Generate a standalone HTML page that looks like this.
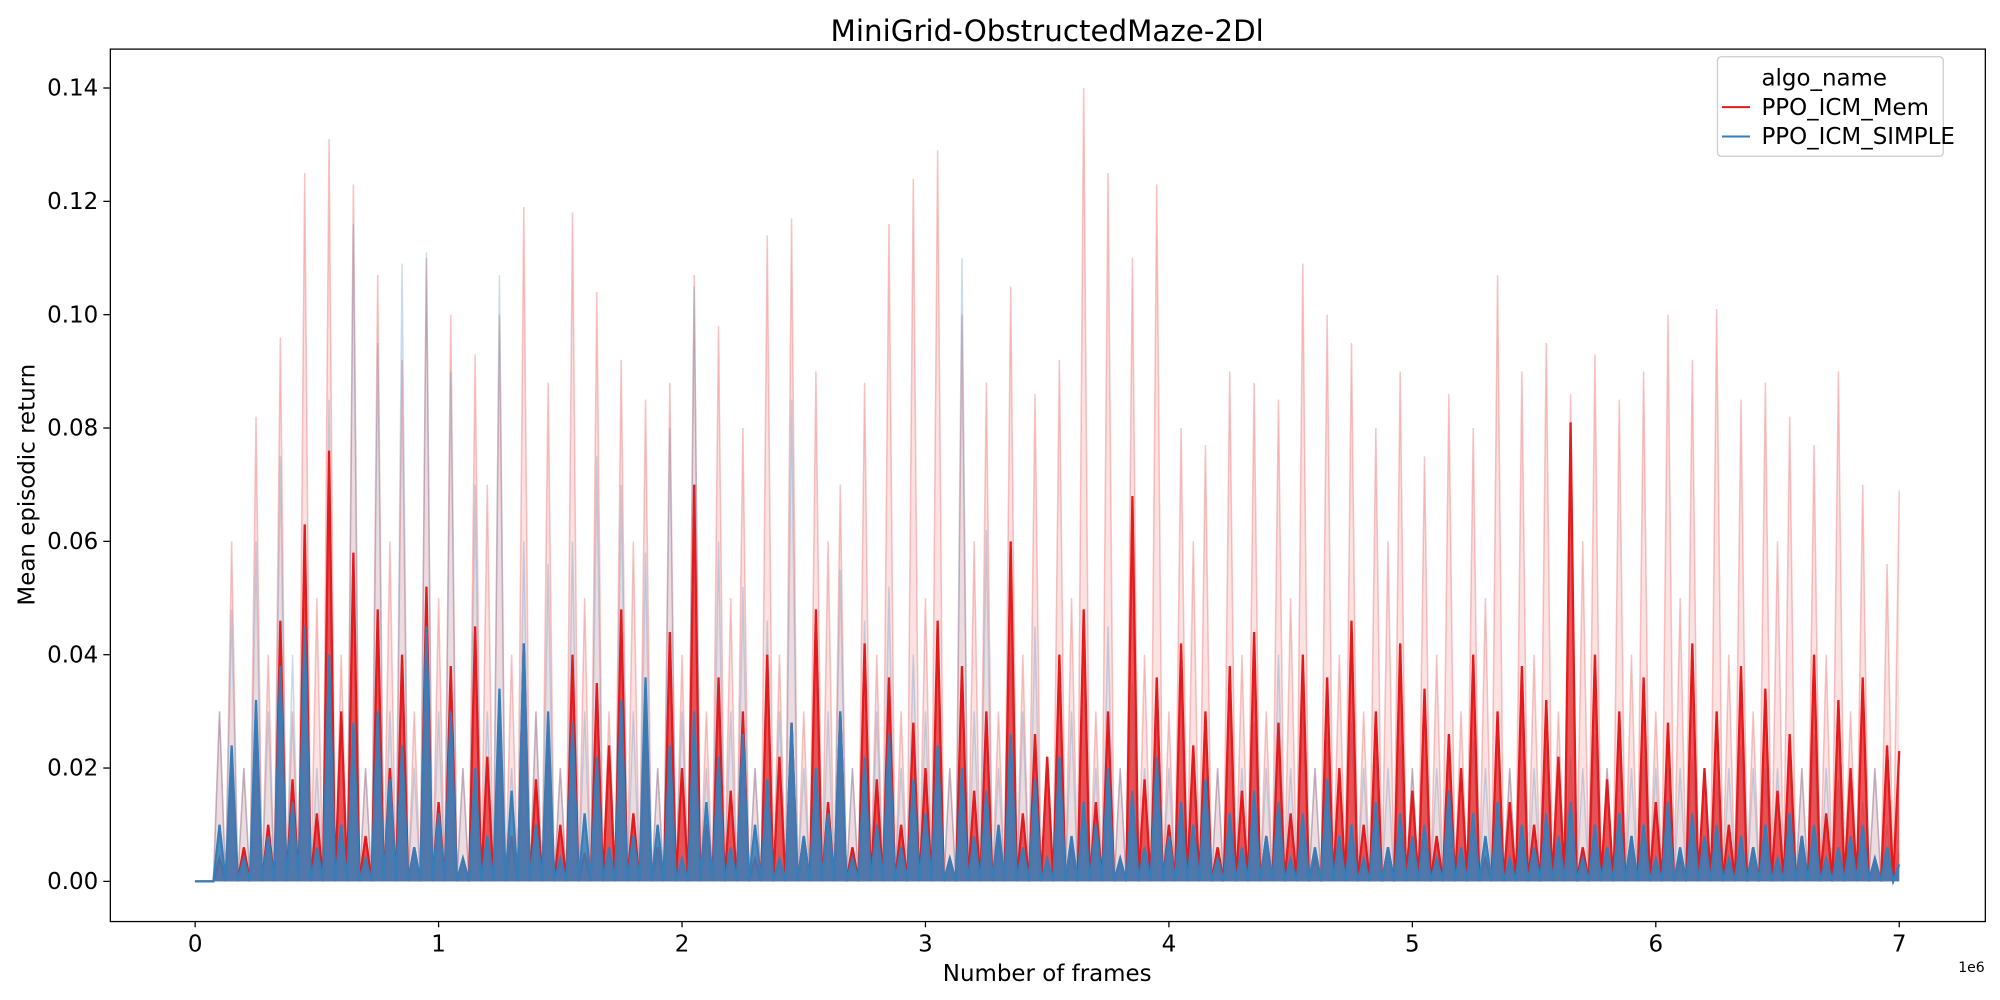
<!DOCTYPE html>
<html><head><meta charset="utf-8"><style>
html,body{margin:0;padding:0;background:#fff;}
svg{display:block;font-family:"DejaVu Sans","Liberation Sans",sans-serif;}
</style></head><body>
<svg id="chart" width="2000" height="1000" viewBox="0 0 1568 784" xmlns="http://www.w3.org/2000/svg">
<rect x="0" y="0" width="1568" height="784" fill="#fff"/>
<text x="821" y="32" font-size="23" text-anchor="middle">MiniGrid-ObstructedMaze-2Dl</text>
<g id="bands"></g>
<g id="lines"></g>
<g id="axes"></g>
<rect x="86.5" y="38.5" width="1470" height="684" fill="none" stroke="#000" stroke-width="1"/>
<text x="821" y="769" font-size="18" text-anchor="middle">Number of frames</text>
<text x="1556" y="762" font-size="11" text-anchor="end">1e6</text>
<text transform="translate(27,380) rotate(-90)" font-size="18" text-anchor="middle">Mean episodic return</text>
<g>
<rect x="1346.5" y="44.5" width="177" height="78" rx="3" fill="#fff" fill-opacity="0.8" stroke="#ccc"/>
<text x="1381" y="67" font-size="18">algo_name</text>
<line x1="1350" y1="84" x2="1372" y2="84" stroke="#e41a1c" stroke-width="1.6"/>
<text x="1381" y="90" font-size="18">PPO_ICM_Mem</text>
<line x1="1350" y1="107" x2="1372" y2="107" stroke="#377eb8" stroke-width="1.6"/>
<text x="1381" y="113" font-size="18">PPO_ICM_SIMPLE</text>
</g>
</svg>
<script>
const xTicks=[0,1,2,3,4,5,6,7];
const yTicks=[0,0.02,0.04,0.06,0.08,0.10,0.12,0.14];
const yTickLabels=["0.00","0.02","0.04","0.06","0.08","0.10","0.12","0.14"];
const stepFrames=0.05;
const memMean=[0,0,4,22,6,28,10,46,18,63,12,76,30,58,8,48,20,40,6,52,14,38,4,45,22,30,8,42,18,28,
10,40,5,35,24,48,12,30,6,44,20,70,10,36,16,30,4,40,22,28,
8,48,14,30,6,42,18,36,10,28,20,46,4,38,16,30,8,60,12,26,
22,40,6,48,14,30,4,68,18,36,10,42,24,30,6,38,16,44,8,28,
12,40,4,36,20,46,10,30,6,42,16,34,8,26,20,40,4,30,14,38,
10,32,22,81,6,40,18,30,8,36,14,28,4,42,20,30,10,38,6,34,
16,26,8,40,12,32,20,36,4,24,23];
const memBand=[0,0,30,60,20,82,40,96,30,125,50,131,40,123,20,107,60,92,30,110,50,100,20,93,70,100,40,119,30,88,
20,118,50,104,30,92,60,85,20,88,40,107,30,98,50,80,20,114,40,117,
30,90,60,70,20,88,40,116,30,124,50,129,20,100,60,88,30,105,40,86,
20,92,50,140,30,125,20,110,40,123,30,80,60,77,20,90,40,88,30,85,
50,109,20,100,40,95,30,80,60,90,20,75,40,86,30,80,50,107,20,90,
40,95,30,86,60,93,20,85,40,90,30,100,50,92,20,101,40,85,30,88,
60,82,20,77,40,90,30,70,20,56,69];
const simpleMean=[0,0,10,24,4,32,8,38,14,45,6,40,10,28,4,30,18,24,6,45,12,30,4,20,8,34,16,42,10,30,
4,28,12,22,6,32,8,36,10,24,4,30,14,22,6,26,10,18,4,28,
8,20,12,30,4,22,10,26,6,18,12,24,4,20,8,16,10,26,6,18,
4,22,8,14,10,20,4,16,6,22,8,14,10,18,4,12,6,16,8,14,
4,12,6,18,8,10,4,14,6,12,8,10,4,16,6,12,8,14,4,10,
6,12,8,14,4,10,6,12,8,10,4,14,6,12,8,10,4,8,6,10,
4,12,8,10,4,6,8,10,4,6,3];
const simpleBand=[0,0,30,48,20,60,30,75,40,62,20,85,30,116,20,95,30,109,20,111,30,90,20,70,30,107,20,60,30,56,
20,60,30,75,20,70,30,58,20,80,30,105,20,60,30,52,20,46,30,85,
20,48,30,55,20,46,30,52,20,40,30,45,20,110,30,62,20,40,30,45,
20,36,30,40,20,45,20,35,20,30,20,38,20,30,20,35,20,28,20,40,
20,30,20,25,20,28,20,22,20,24,20,30,20,22,20,25,20,28,20,30,
20,24,20,22,20,26,20,24,20,22,20,20,20,22,20,18,20,24,20,20,
20,22,20,26,20,18,20,14,20,10,5];

const NS="http://www.w3.org/2000/svg";
function xs(v){return 153+v*(1489-153)/7;}
function ys(v){return 691-v*(691-69)/0.14;}
function mk(tag,attrs,parent){const e=document.createElementNS(NS,tag);for(const k in attrs)e.setAttribute(k,attrs[k]);parent.appendChild(e);return e;}
const axes=document.getElementById('axes');
xTicks.forEach(t=>{
  const l=mk('line',{x1:xs(t),x2:xs(t),y1:722,y2:727,stroke:'#000'},axes);
  
  
  const tx=mk('text',{x:xs(t),y:746,'font-size':18,'text-anchor':'middle'},axes);
  
  
  tx.textContent=String(t);
});
yTicks.forEach((t,i)=>{
  const l=mk('line',{x1:81,x2:86,y1:ys(t),y2:ys(t),stroke:'#000'},axes);
  
  
  const tx=mk('text',{x:77,y:ys(t)+6,'font-size':18,'text-anchor':'end'},axes);
  
  
  tx.textContent=yTickLabels[i];
});
function pts(arr){
  const half=(xs(stepFrames)-xs(0))/2, y0=ys(0);
  const out=[];
  arr.forEach((v,i)=>{
    const x=xs(i*stepFrames);
    out.push(x.toFixed(2)+','+ys(v/1000).toFixed(2));
    if(i<arr.length-1) out.push((x+half).toFixed(2)+','+y0.toFixed(2));
  });
  return out;
}
function closed(arr){
  const p=pts(arr), y0=ys(0).toFixed(2);
  p.push(xs((arr.length-1)*stepFrames).toFixed(2)+','+y0);
  p.push(xs(0).toFixed(2)+','+y0);
  return p.join(' ');
}
const bands=document.getElementById('bands'), lines=document.getElementById('lines');
const f1=mk('polygon',{points:closed(memBand),fill:'#e41a1c','fill-opacity':0.12,stroke:'none'},bands);


const b1=mk('polyline',{points:pts(memBand).join(' '),fill:'none',stroke:'#e41a1c','stroke-opacity':0.25,'stroke-width':1.2},bands);


const f2=mk('polygon',{points:closed(simpleBand),fill:'#377eb8','fill-opacity':0.08,stroke:'none'},bands);


const b2=mk('polyline',{points:pts(simpleBand).join(' '),fill:'none',stroke:'#377eb8','stroke-opacity':0.25,'stroke-width':1.2},bands);


const f3=mk('polygon',{points:closed(memMean),fill:'#e41a1c','fill-opacity':0.7,stroke:'none'},lines);


const l1=mk('polyline',{points:pts(memMean).join(' '),fill:'none',stroke:'#e41a1c','stroke-width':1.8},lines);


const f4=mk('polygon',{points:closed(simpleMean),fill:'#377eb8','fill-opacity':0.85,stroke:'none'},lines);


const l2=mk('polyline',{points:pts(simpleMean).join(' '),fill:'none',stroke:'#377eb8','stroke-width':1.8},lines);


</script>
</body></html>
